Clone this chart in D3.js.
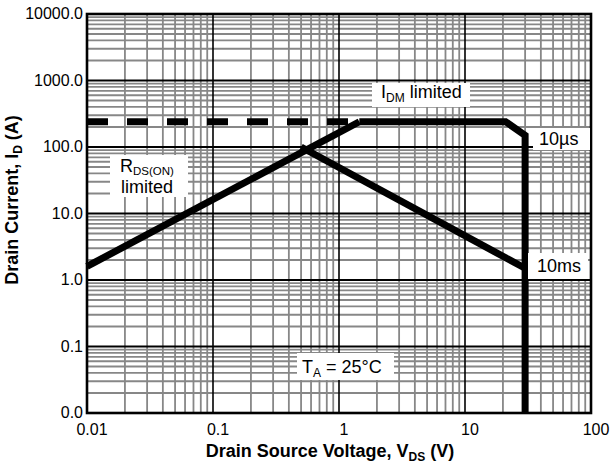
<!DOCTYPE html>
<html>
<head>
<meta charset="utf-8">
<script src="https://cdn.jsdelivr.net/npm/d3@7"></script>
<style>
  html, body { margin: 0; padding: 0; background: #fff; }
  svg { display: block; font-family: "Liberation Sans", Arial, sans-serif; }
</style>
</head>
<body>
<svg id="chart" width="610" height="466"></svg>
<script>
// Safe operating area, log-log axes
const xDomain = [0.01, 100];
const yDomain = [0.01, 10000];
const xTickValues = [0.01, 0.1, 1, 10, 100];
const xTickLabels = ["0.01", "0.1", "1", "10", "100"];
const yTickValues = [0.01, 0.1, 1, 10, 100, 1000, 10000];
const yTickLabels = ["0.0", "0.1", "1.0", "10.0", "100.0", "1000.0", "10000.0"];

// R_DS(on) limit line
const rdsV = [0.01, 1.45];
const rdsI = [1.6, 240];
// I_DM limit extended to the left (dashed)
const idmV = [0.01, 1.45];
const idmI = [240, 240];
// 10 µs pulse boundary
const us10V = [1.45, 21, 30, 30];
const us10I = [240, 240, 150, 0.01];
// 10 ms pulse boundary
const ms10V = [0.5, 30];
const ms10I = [100, 1.5];

const svg = d3.select("#chart");
const pL = 87, pR = 591, pT = 14, pB = 413;

const x = d3.scaleLog().domain(xDomain).range([pL, pR]);
const y = d3.scaleLog().domain(yDomain).range([pB, pT]);

// minor / major grid values
const decadesX = d3.range(-2, 2);
const decadesY = d3.range(-2, 4);
const minorX = [], minorY = [];
decadesX.forEach(k => { for (let m = 2; m <= 9; m++) minorX.push(m * Math.pow(10, k)); });
decadesY.forEach(k => { for (let m = 2; m <= 9; m++) minorY.push(m * Math.pow(10, k)); });
const majorX = xTickValues.slice(1, -1);
const majorY = yTickValues.slice(1, -1);

const grid = svg.append("g");
grid.selectAll("line.minx").data(minorX).join("line")
  .attr("x1", d => x(d)).attr("x2", d => x(d))
  .attr("y1", pT).attr("y2", pB)
  .attr("stroke", "#878787").attr("stroke-width", 1.8);
grid.selectAll("line.miny").data(minorY).join("line")
  .attr("x1", pL).attr("x2", pR)
  .attr("y1", d => y(d)).attr("y2", d => y(d))
  .attr("stroke", "#878787").attr("stroke-width", 1.8);
grid.selectAll("line.majx").data(majorX).join("line")
  .attr("x1", d => x(d)).attr("x2", d => x(d))
  .attr("y1", pT).attr("y2", pB)
  .attr("stroke", "#000").attr("stroke-width", 1.6);
grid.selectAll("line.majy").data(majorY).join("line")
  .attr("x1", pL).attr("x2", pR)
  .attr("y1", d => y(d)).attr("y2", d => y(d))
  .attr("stroke", "#000").attr("stroke-width", 2);

// curves
const line = d3.line().x(d => x(d[0])).y(d => y(d[1]));
const zip = (a, b) => a.map((v, i) => [v, b[i]]);
const curves = svg.append("g").attr("fill", "none").attr("stroke", "#000").attr("stroke-width", 7);
curves.append("path").attr("d", line(zip(idmV, idmI))).attr("stroke-dasharray", "21,19");
curves.append("path").attr("d", line(zip(rdsV, rdsI)));
curves.append("path").attr("d", line(zip(us10V, us10I))).attr("stroke-linejoin", "miter");
curves.append("path").attr("d", line(zip(ms10V, ms10I)));

// frame
svg.append("rect").attr("x", pL).attr("y", pT)
  .attr("width", pR - pL).attr("height", pB - pT)
  .attr("fill", "none").attr("stroke", "#000").attr("stroke-width", 2.6);

// tick labels
svg.append("g").selectAll("text").data(xTickValues).join("text")
  .attr("x", d => x(d) + 5).attr("y", 435)
  .attr("text-anchor", "middle").attr("font-size", 16)
  .text((d, i) => xTickLabels[i]);
svg.append("g").selectAll("text").data(yTickValues).join("text")
  .attr("x", pL - 4).attr("y", d => y(d)).attr("dy", "0.33em")
  .attr("text-anchor", "end").attr("font-size", 16)
  .text((d, i) => yTickLabels[i]);

// axis titles
const xt = svg.append("text").attr("x", 330).attr("y", 457)
  .attr("text-anchor", "middle").attr("font-size", 18).attr("font-weight", "bold");
xt.append("tspan").text("Drain Source Voltage, V");
xt.append("tspan").attr("font-size", 12).attr("dy", 4).text("DS");
xt.append("tspan").attr("dy", -4).text(" (V)");

const yt = svg.append("text").attr("transform", "translate(18,200) rotate(-90)")
  .attr("text-anchor", "middle").attr("font-size", 18).attr("font-weight", "bold");
yt.append("tspan").text("Drain Current, I");
yt.append("tspan").attr("font-size", 12).attr("dy", 4).text("D");
yt.append("tspan").attr("dy", -4).text(" (A)");

// boxed annotations
function box(x0, y0, w, h) {
  svg.append("rect").attr("x", x0).attr("y", y0).attr("width", w).attr("height", h).attr("fill", "#fff");
}
function label(x0, y0) {
  return svg.append("text").attr("x", x0).attr("y", y0).attr("font-size", 18);
}

box(372, 83, 98, 24);
let t = label(381, 98);
t.append("tspan").text("I");
t.append("tspan").attr("font-size", 12).attr("dy", 4).text("DM");
t.append("tspan").attr("dy", -4).text(" limited");

box(533, 128, 57, 22);
label(539, 145).text("10µs");

box(528, 253, 60, 26);
label(537, 272).text("10ms");

box(110, 155, 78, 42);
t = label(120, 172);
t.append("tspan").text("R");
t.append("tspan").attr("font-size", 11.5).attr("dy", 3).text("DS(ON)");
label(121, 193).text("limited");

box(297, 353, 97, 27);
t = label(302, 373);
t.append("tspan").text("T");
t.append("tspan").attr("font-size", 12).attr("dy", 4).text("A");
t.append("tspan").attr("dy", -4).text(" = 25°C");
</script>
</body>
</html>
